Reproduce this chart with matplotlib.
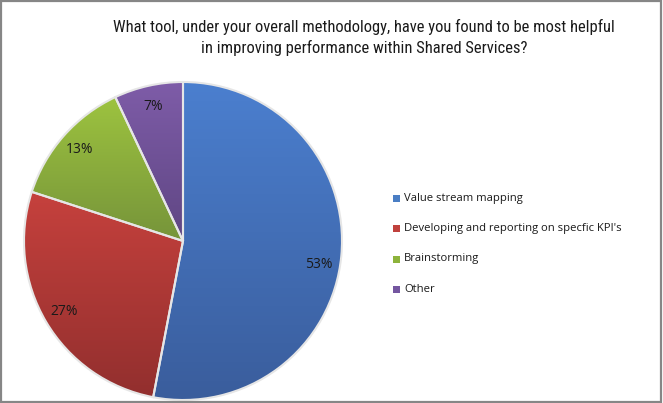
import matplotlib
matplotlib.use("Agg")
import matplotlib.pyplot as plt
import numpy as np
from matplotlib import font_manager
from matplotlib.colors import LinearSegmentedColormap
import matplotlib.patches as mpatches

# ---- data ----
categories = ["Value stream mapping",
              "Developing and reporting on specfic KPI's",
              "Brainstorming",
              "Other"]
values = [53, 27, 13, 7]
labels_pct = ["53%", "27%", "13%", "7%"]
title_lines = ["What tool, under your overall methodology, have you found to be most helpful",
               "in improving performance within Shared Services?"]

top_colors = ["#4B7FCF", "#C6413D", "#9DC33F", "#7E5CA8"]
bottom_colors = ["#3A5D9C", "#922F2E", "#76943A", "#5F4683"]
legend_colors = ["#4A7EC4", "#C0413D", "#8DB33B", "#7456A0"]

avail = {f.name for f in font_manager.fontManager.ttflist}
body_fam = "Open Sans" if "Open Sans" in avail else "DejaVu Sans"
title_fam = body_fam
for cand in ["Liberation Sans Narrow", "Roboto Condensed", "Open Sans Condensed",
             "Noto Sans Condensed", "Roboto", body_fam]:
    if cand in avail:
        title_fam = cand
        break
plt.rcParams['font.family'] = [body_fam, 'DejaVu Sans']

W, H = 663, 403
fig = plt.figure(figsize=(W / 100, H / 100), dpi=100)
ax = fig.add_axes([0, 0, 1, 1])
renderer = fig.canvas.get_renderer()

cx, cy, r = 183, H - 241, 159
wedges, texts, autotexts = ax.pie(
    values, labels=None, colors=top_colors, startangle=90, counterclock=False,
    center=(cx, cy), radius=r, autopct=lambda p: "", pctdistance=0.87,
    wedgeprops=dict(edgecolor="none", linewidth=0))

ax.set_xlim(0, W)
ax.set_ylim(0, H)
ax.set_aspect("equal")
ax.axis("off")

inv = ax.transData.inverted()
for w, tc, bc, at, lab in zip(wedges, top_colors, bottom_colors, autotexts, labels_pct):
    bb = w.get_window_extent(renderer=renderer)
    (x0, y0), (x1, y1) = inv.transform([[bb.x0, bb.y0], [bb.x1, bb.y1]])
    cmap = LinearSegmentedColormap.from_list("g", [bc, tc])
    grad = np.linspace(0, 1, 256).reshape(-1, 1)
    im = ax.imshow(grad, cmap=cmap, extent=(x0, x1, y0, y1), origin="lower",
                   aspect="auto", zorder=2, interpolation="bilinear")
    im.set_clip_path(w)
    at.set_text(lab)
    at.set_fontsize(10)
    at.set_color("#1A1A1A")
    at.set_zorder(5)

# nudge the large-slice label like the reference layout
px, py = autotexts[0].get_position()
autotexts[0].set_position((px - 2, py - 10))

theta = 90.0
tot = sum(values)
for v in values:
    t2 = theta - 360.0 * v / tot
    ax.add_patch(mpatches.Wedge((cx, cy), r, t2, theta, facecolor="none",
                                edgecolor="#E6E6E6", linewidth=1.5, zorder=4))
    theta = t2

ax.set_xlim(0, W)
ax.set_ylim(0, H)

# title: fit first line width to ~506 px
fs = 10.5
t = fig.text(0, 0, title_lines[0], fontsize=fs, family=[title_fam, 'DejaVu Sans'])
wpx = t.get_window_extent(renderer=renderer).width
t.remove()
fs = min(12.5, fs * 506.0 / wpx)
for line, y in zip(title_lines, [27, 48]):
    fig.text(364 / W, 1 - y / H, line, ha="center", va="center", fontsize=fs,
             color="#1A1A1A", family=[title_fam, 'DejaVu Sans'])

# legend
ys = [198, 228, 259, 289]
for c, name, y in zip(legend_colors, categories, ys):
    ax.add_patch(mpatches.Rectangle((393, H - y - 3.5), 7, 7, facecolor=c, edgecolor="none"))
    ax.text(404, H - y, name, fontsize=8.1, va="center", ha="left", color="#1A1A1A")

# border
ax.add_patch(mpatches.Rectangle((0.5, 1.5), W - 2.5, H - 2.5, facecolor="none",
                                edgecolor="#868686", linewidth=1.6, zorder=10))

fig.savefig("out.png", dpi=100)
